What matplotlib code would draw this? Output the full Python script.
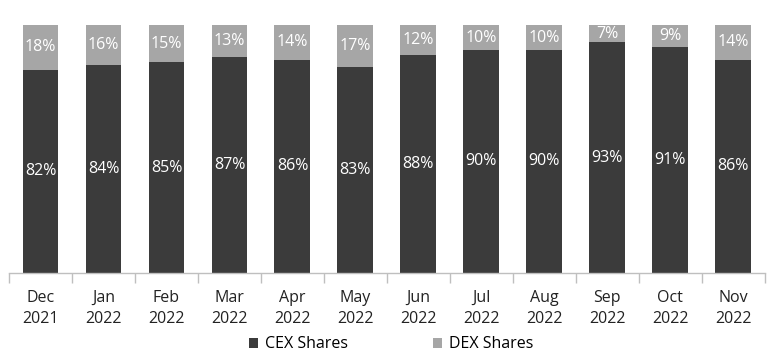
import matplotlib
matplotlib.use("Agg")
import matplotlib.pyplot as plt
from matplotlib.patches import Patch
import numpy as np

# Monthly share of spot volume, CEX vs DEX
months = ["Dec\n2021", "Jan\n2022", "Feb\n2022", "Mar\n2022", "Apr\n2022", "May\n2022",
          "Jun\n2022", "Jul\n2022", "Aug\n2022", "Sep\n2022", "Oct\n2022", "Nov\n2022"]
cex_share = [82, 84, 85, 87, 86, 83, 88, 90, 90, 93, 91, 86]
dex_share = [18, 16, 15, 13, 14, 17, 12, 10, 10, 7, 9, 14]

CEX_COLOR = "#3b3b3b"
DEX_COLOR = "#a6a6a6"
FS = 11.5

plt.rcParams["font.family"] = ["Open Sans", "DejaVu Sans"]

fig = plt.figure(figsize=(7.71, 3.54), dpi=100)
ax = fig.add_axes([0.0117, 0.229, 0.9803, 0.700])

x = np.arange(len(months))
width = 0.57
cex = np.array(cex_share)
dex = np.array(dex_share)

ax.bar(x, cex, width, color=CEX_COLOR)
ax.bar(x, dex, width, bottom=cex, color=DEX_COLOR)

for i in range(len(x)):
    ax.text(x[i], cex[i] / 2, f"{cex[i]}%", ha="center", va="center",
            color="white", fontsize=FS)
    ax.text(x[i], cex[i] + dex[i] / 2, f"{dex[i]}%", ha="center", va="center",
            color="white", fontsize=FS)

ax.set_xlim(-0.5, len(months) - 0.5)
ax.set_ylim(0, 100)
ax.set_yticks([])
for side in ["top", "right", "left"]:
    ax.spines[side].set_visible(False)
ax.spines["bottom"].set_color("#bfbfbf")
ax.spines["bottom"].set_linewidth(1.0)

ax.set_xticks(x)
ax.set_xticklabels(months, fontsize=FS, color="#222222", linespacing=1.45)
ax.tick_params(axis="x", which="major", length=0, pad=12)
ax.set_xticks(np.arange(-0.5, len(months), 1.0), minor=True)
ax.tick_params(axis="x", which="minor", length=7, color="#bfbfbf", width=1.0)

handles = [Patch(facecolor=CEX_COLOR, label="CEX Shares"),
           Patch(facecolor=DEX_COLOR, label="DEX Shares")]
fig.legend(handles=handles, loc="center", bbox_to_anchor=(0.507, 0.027), ncol=2,
           frameon=False, fontsize=FS, handlelength=0.6, handleheight=0.6,
           handletextpad=0.4, columnspacing=5.3, borderpad=0)

fig.savefig("out.png", dpi=100)
